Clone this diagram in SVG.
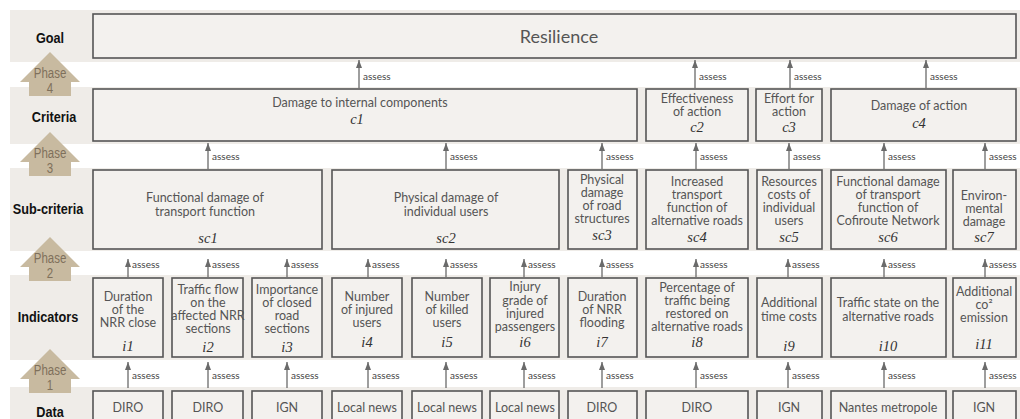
<svg xmlns="http://www.w3.org/2000/svg" width="1020" height="419" viewBox="0 0 1020 419">
<style>
.bg{fill:#ffffff}
.band{fill:#efece8}
.box{fill:#f3f1ee;stroke:#555;stroke-width:1.6}
.t{font-family:Lato,"Liberation Sans",sans-serif;font-size:12.5px;fill:#555;text-anchor:middle}
.big{font-size:18px}
.lab{font-family:"Liberation Serif",serif;font-style:italic;font-size:14.5px;fill:#333;text-anchor:middle}
.row{font-family:"Liberation Sans",sans-serif;font-weight:bold;font-size:15.5px;fill:#111;text-anchor:middle}
.ph{fill:#c8baa0}
.pht{font-family:"Liberation Sans",sans-serif;font-size:14px;fill:#7f705b;text-anchor:middle}
.ar{stroke:#6a6a6a;stroke-width:1.3;fill:none;marker-end:url(#ah)}
.as{font-family:Lato,"Liberation Sans",sans-serif;font-size:10px;fill:#444}
</style>
<defs>
<marker id="ah" viewBox="0 0 8 6" markerUnits="userSpaceOnUse" markerWidth="8" markerHeight="6" refX="8" refY="3" orient="auto">
<path d="M0,0 L8,3 L0,6 z" fill="#6a6a6a"/>
</marker>
</defs>
<rect class="bg" x="0" y="0" width="1020" height="419"/>
<g id="bands">
<rect class="band" x="10" y="10" width="1010" height="52"/>
<rect class="band" x="10" y="87" width="1010" height="57"/>
<rect class="band" x="10" y="168" width="1010" height="83"/>
<rect class="band" x="10" y="275" width="1010" height="85"/>
<rect class="band" x="10" y="387" width="1010" height="32"/>
</g>
<g id="row-labels">
<text class="row" transform="translate(50 43) scale(0.82 1)">Goal</text>
<text class="row" transform="translate(54 122) scale(0.82 1)">Criteria</text>
<text class="row" transform="translate(48 214) scale(0.82 1)">Sub-criteria</text>
<text class="row" transform="translate(48 322) scale(0.82 1)">Indicators</text>
<text class="row" transform="translate(50 417) scale(0.82 1)">Data</text>
</g>
<g id="phase4"><path class="ph" d="M50,52 L80,82 L71,82 L71,96 L29,96 L29,82 L20,82 Z"/><text class="pht" transform="translate(50 78) scale(0.82 1)">Phase</text><text class="pht" transform="translate(50 93) scale(0.82 1)">4</text></g>
<g id="phase3"><path class="ph" d="M50,132 L80,162 L71,162 L71,176 L29,176 L29,162 L20,162 Z"/><text class="pht" transform="translate(50 158) scale(0.82 1)">Phase</text><text class="pht" transform="translate(50 173) scale(0.82 1)">3</text></g>
<g id="phase2"><path class="ph" d="M50,237 L80,267 L71,267 L71,281 L29,281 L29,267 L20,267 Z"/><text class="pht" transform="translate(50 263) scale(0.82 1)">Phase</text><text class="pht" transform="translate(50 278) scale(0.82 1)">2</text></g>
<g id="phase1"><path class="ph" d="M50,349 L80,379 L71,379 L71,393 L29,393 L29,379 L20,379 Z"/><text class="pht" transform="translate(50 375) scale(0.82 1)">Phase</text><text class="pht" transform="translate(50 390) scale(0.82 1)">1</text></g>

<g id="goal"><rect class="box" x="93" y="14" width="923" height="44"/><text class="t big" x="559" y="43">Resilience</text></g>

<g id="c1"><rect class="box" x="93" y="89" width="544" height="52"/><text class="t" x="360" y="107">Damage to internal components</text><text class="lab" x="357" y="124">c1</text></g>
<g id="c2"><rect class="box" x="646" y="89" width="102" height="52"/><text class="t" x="697" y="103">Effectiveness</text><text class="t" x="697" y="116">of action</text><text class="lab" x="697" y="132">c2</text></g>
<g id="c3"><rect class="box" x="756" y="89" width="66" height="52"/><text class="t" x="789" y="103">Effort for</text><text class="t" x="789" y="116">action</text><text class="lab" x="789" y="132">c3</text></g>
<g id="c4"><rect class="box" x="831" y="89" width="185" height="52"/><text class="t" x="919" y="110">Damage of action</text><text class="lab" x="919" y="128">c4</text></g>

<g id="sc1"><rect class="box" x="93" y="170" width="229" height="79"/><text class="t" x="205" y="202">Functional damage of</text><text class="t" x="205" y="216">transport function</text><text class="lab" x="208" y="243">sc1</text></g>
<g id="sc2"><rect class="box" x="332" y="170" width="227" height="79"/><text class="t" x="446" y="202">Physical damage of</text><text class="t" x="446" y="216">individual users</text><text class="lab" x="446" y="243">sc2</text></g>
<g id="sc3"><rect class="box" x="568" y="170" width="69" height="79"/><text class="t" x="602" y="184">Physical</text><text class="t" x="602" y="197">damage</text><text class="t" x="602" y="210">of road</text><text class="t" x="602" y="223">structures</text><text class="lab" x="602" y="240">sc3</text></g>
<g id="sc4"><rect class="box" x="646" y="170" width="102" height="79"/><text class="t" x="697" y="186">Increased</text><text class="t" x="697" y="199">transport</text><text class="t" x="697" y="212">function of</text><text class="t" x="697" y="225">alternative roads</text><text class="lab" x="697" y="242">sc4</text></g>
<g id="sc5"><rect class="box" x="757" y="170" width="65" height="79"/><text class="t" x="789" y="186">Resources</text><text class="t" x="789" y="199">costs of</text><text class="t" x="789" y="212">individual</text><text class="t" x="789" y="225">users</text><text class="lab" x="789" y="242">sc5</text></g>
<g id="sc6"><rect class="box" x="831" y="170" width="115" height="79"/><text class="t" x="888" y="186">Functional damage</text><text class="t" x="888" y="199">of transport</text><text class="t" x="888" y="212">function of</text><text class="t" x="888" y="225">Cofiroute Network</text><text class="lab" x="888" y="242">sc6</text></g>
<g id="sc7"><rect class="box" x="953" y="170" width="63" height="79"/><text class="t" x="984" y="200">Environ-</text><text class="t" x="984" y="213">mental</text><text class="t" x="984" y="226">damage</text><text class="lab" x="984" y="242">sc7</text></g>

<g id="i1"><rect class="box" x="93" y="278" width="70" height="79"/><text class="t" x="128" y="301">Duration</text><text class="t" x="128" y="314">of the</text><text class="t" x="128" y="327">NRR close</text><text class="lab" x="128" y="351">i1</text></g>
<g id="i2"><rect class="box" x="172" y="278" width="71" height="79"/><text class="t" x="208" y="294">Traffic flow</text><text class="t" x="208" y="307">on the</text><text class="t" x="208" y="320">affected NRR</text><text class="t" x="208" y="333">sections</text><text class="lab" x="208" y="352">i2</text></g>
<g id="i3"><rect class="box" x="252" y="278" width="70" height="79"/><text class="t" x="287" y="294">Importance</text><text class="t" x="287" y="307">of closed</text><text class="t" x="287" y="320">road</text><text class="t" x="287" y="333">sections</text><text class="lab" x="287" y="352">i3</text></g>
<g id="i4"><rect class="box" x="332" y="278" width="70" height="79"/><text class="t" x="367" y="301">Number</text><text class="t" x="367" y="314">of injured</text><text class="t" x="367" y="327">users</text><text class="lab" x="367" y="347">i4</text></g>
<g id="i5"><rect class="box" x="412" y="278" width="70" height="79"/><text class="t" x="447" y="301">Number</text><text class="t" x="447" y="314">of killed</text><text class="t" x="447" y="327">users</text><text class="lab" x="447" y="347">i5</text></g>
<g id="i6"><rect class="box" x="490" y="278" width="69" height="79"/><text class="t" x="525" y="291">Injury</text><text class="t" x="525" y="305">grade of</text><text class="t" x="525" y="318">injured</text><text class="t" x="525" y="331">passengers</text><text class="lab" x="525" y="347">i6</text></g>
<g id="i7"><rect class="box" x="568" y="278" width="69" height="79"/><text class="t" x="602" y="301">Duration</text><text class="t" x="602" y="314">of NRR</text><text class="t" x="602" y="327">flooding</text><text class="lab" x="602" y="347">i7</text></g>
<g id="i8"><rect class="box" x="646" y="278" width="102" height="79"/><text class="t" x="697" y="292">Percentage of</text><text class="t" x="697" y="305">traffic being</text><text class="t" x="697" y="318">restored on</text><text class="t" x="697" y="331">alternative roads</text><text class="lab" x="697" y="347">i8</text></g>
<g id="i9"><rect class="box" x="757" y="278" width="65" height="79"/><text class="t" x="789" y="307">Additional</text><text class="t" x="789" y="321">time costs</text><text class="lab" x="789" y="351">i9</text></g>
<g id="i10"><rect class="box" x="831" y="278" width="115" height="79"/><text class="t" x="888" y="307">Traffic state on the</text><text class="t" x="888" y="321">alternative roads</text><text class="lab" x="888" y="351">i10</text></g>
<g id="i11"><rect class="box" x="953" y="278" width="63" height="79"/><text class="t" x="984" y="296">Additional</text><text class="t" x="984" y="309">co²</text><text class="t" x="984" y="322">emission</text><text class="lab" x="984" y="349">i11</text></g>

<g id="d1"><rect class="box" x="93" y="391" width="70" height="40"/><text class="t" x="128" y="412">DIRO</text></g>
<g id="d2"><rect class="box" x="172" y="391" width="71" height="40"/><text class="t" x="208" y="412">DIRO</text></g>
<g id="d3"><rect class="box" x="252" y="391" width="70" height="40"/><text class="t" x="287" y="412">IGN</text></g>
<g id="d4"><rect class="box" x="332" y="391" width="70" height="40"/><text class="t" x="367" y="412">Local news</text></g>
<g id="d5"><rect class="box" x="412" y="391" width="70" height="40"/><text class="t" x="447" y="412">Local news</text></g>
<g id="d6"><rect class="box" x="490" y="391" width="69" height="40"/><text class="t" x="525" y="412">Local news</text></g>
<g id="d7"><rect class="box" x="568" y="391" width="69" height="40"/><text class="t" x="602" y="412">DIRO</text></g>
<g id="d8"><rect class="box" x="646" y="391" width="102" height="40"/><text class="t" x="697" y="412">DIRO</text></g>
<g id="d9"><rect class="box" x="757" y="391" width="65" height="40"/><text class="t" x="789" y="412">IGN</text></g>
<g id="d10"><rect class="box" x="831" y="391" width="115" height="40"/><text class="t" x="888" y="412">Nantes metropole</text></g>
<g id="d11"><rect class="box" x="953" y="391" width="63" height="40"/><text class="t" x="984" y="412">IGN</text></g>

<g id="connectors">
<line class="ar" x1="359" y1="88" x2="359" y2="60"/><text class="as" x="363" y="80">assess</text>
<line class="ar" x1="695" y1="88" x2="695" y2="60"/><text class="as" x="699" y="80">assess</text>
<line class="ar" x1="790" y1="88" x2="790" y2="60"/><text class="as" x="794" y="80">assess</text>
<line class="ar" x1="926" y1="88" x2="926" y2="60"/><text class="as" x="930" y="80">assess</text>

<line class="ar" x1="208" y1="169" x2="208" y2="143"/><text class="as" x="212" y="160">assess</text>
<line class="ar" x1="446" y1="169" x2="446" y2="143"/><text class="as" x="450" y="160">assess</text>
<line class="ar" x1="602" y1="169" x2="602" y2="143"/><text class="as" x="606" y="160">assess</text>
<line class="ar" x1="696" y1="169" x2="696" y2="143"/><text class="as" x="700" y="160">assess</text>
<line class="ar" x1="789" y1="169" x2="789" y2="143"/><text class="as" x="793" y="160">assess</text>
<line class="ar" x1="884" y1="169" x2="884" y2="143"/><text class="as" x="888" y="160">assess</text>
<line class="ar" x1="985" y1="169" x2="985" y2="143"/><text class="as" x="989" y="160">assess</text>

<line class="ar" x1="128" y1="277" x2="128" y2="259"/><text class="as" x="132" y="268">assess</text>
<line class="ar" x1="208" y1="277" x2="208" y2="259"/><text class="as" x="212" y="268">assess</text>
<line class="ar" x1="287" y1="277" x2="287" y2="259"/><text class="as" x="291" y="268">assess</text>
<line class="ar" x1="368" y1="277" x2="368" y2="259"/><text class="as" x="372" y="268">assess</text>
<line class="ar" x1="446" y1="277" x2="446" y2="259"/><text class="as" x="450" y="268">assess</text>
<line class="ar" x1="524" y1="277" x2="524" y2="259"/><text class="as" x="528" y="268">assess</text>
<line class="ar" x1="602" y1="277" x2="602" y2="259"/><text class="as" x="606" y="268">assess</text>
<line class="ar" x1="696" y1="277" x2="696" y2="259"/><text class="as" x="700" y="268">assess</text>
<line class="ar" x1="788" y1="277" x2="788" y2="259"/><text class="as" x="792" y="268">assess</text>
<line class="ar" x1="884" y1="277" x2="884" y2="259"/><text class="as" x="888" y="268">assess</text>
<line class="ar" x1="985" y1="277" x2="985" y2="259"/><text class="as" x="989" y="268">assess</text>

<line class="ar" x1="128" y1="388" x2="128" y2="362"/><text class="as" x="132" y="379">assess</text>
<line class="ar" x1="208" y1="388" x2="208" y2="362"/><text class="as" x="212" y="379">assess</text>
<line class="ar" x1="287" y1="388" x2="287" y2="362"/><text class="as" x="291" y="379">assess</text>
<line class="ar" x1="368" y1="388" x2="368" y2="362"/><text class="as" x="372" y="379">assess</text>
<line class="ar" x1="446" y1="388" x2="446" y2="362"/><text class="as" x="450" y="379">assess</text>
<line class="ar" x1="524" y1="388" x2="524" y2="362"/><text class="as" x="528" y="379">assess</text>
<line class="ar" x1="602" y1="388" x2="602" y2="362"/><text class="as" x="606" y="379">assess</text>
<line class="ar" x1="696" y1="388" x2="696" y2="362"/><text class="as" x="700" y="379">assess</text>
<line class="ar" x1="788" y1="388" x2="788" y2="362"/><text class="as" x="792" y="379">assess</text>
<line class="ar" x1="884" y1="388" x2="884" y2="362"/><text class="as" x="888" y="379">assess</text>
<line class="ar" x1="985" y1="388" x2="985" y2="362"/><text class="as" x="989" y="379">assess</text>
</g>
</svg>
